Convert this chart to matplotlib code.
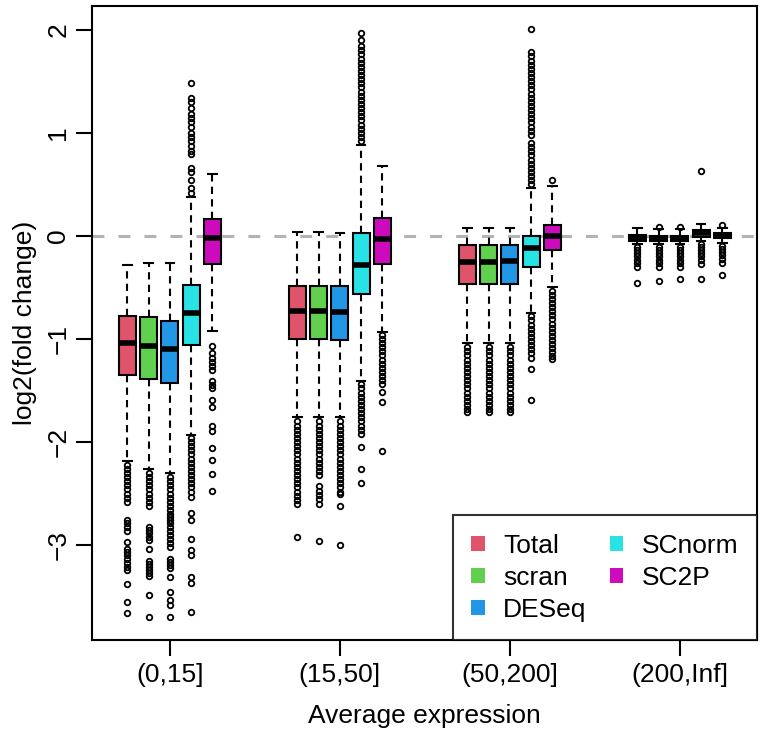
import matplotlib
matplotlib.use("Agg")
import matplotlib.pyplot as plt
from matplotlib.patches import Patch

# expression bins and methods
groups = ["(0,15]", "(15,50]", "(50,200]", "(200,Inf]"]
methods = ["Total", "scran", "DESeq", "SCnorm", "SC2P"]
colors = ["#DF536B", "#61D04F", "#2297E6", "#28E2E5", "#CD0BBC"]

# box statistics per method, one value per expression bin
med = {
    "Total":  [-1.04, -0.73, -0.25, -0.02],
    "scran":  [-1.07, -0.73, -0.25, -0.02],
    "DESeq":  [-1.10, -0.74, -0.24, -0.02],
    "SCnorm": [-0.75, -0.28, -0.12, 0.03],
    "SC2P":   [-0.02, -0.03, 0.00, 0.00],
}
q1 = {
    "Total":  [-1.35, -1.00, -0.47, -0.045],
    "scran":  [-1.39, -1.00, -0.47, -0.045],
    "DESeq":  [-1.43, -1.01, -0.47, -0.045],
    "SCnorm": [-1.06, -0.56, -0.30, -0.01],
    "SC2P":   [-0.27, -0.27, -0.14, -0.02],
}
q3 = {
    "Total":  [-0.78, -0.49, -0.09, 0.01],
    "scran":  [-0.79, -0.49, -0.09, 0.00],
    "DESeq":  [-0.83, -0.49, -0.09, 0.00],
    "SCnorm": [-0.48, 0.03, 0.00, 0.06],
    "SC2P":   [0.165, 0.17, 0.11, 0.03],
}
whislo = {
    "Total":  [-2.18, -1.76, -1.04, -0.08],
    "scran":  [-2.26, -1.76, -1.04, -0.08],
    "DESeq":  [-2.30, -1.76, -1.04, -0.08],
    "SCnorm": [-1.93, -1.41, -0.75, -0.05],
    "SC2P":   [-0.92, -0.93, -0.50, -0.07],
}
whishi = {
    "Total":  [-0.28, 0.04, 0.075, 0.075],
    "scran":  [-0.26, 0.04, 0.075, 0.07],
    "DESeq":  [-0.26, 0.03, 0.075, 0.07],
    "SCnorm": [0.38, 0.88, 0.46, 0.12],
    "SC2P":   [0.60, 0.68, 0.48, 0.08],
}

# outliers
fliers = {
    "Total": [
        [-2.22, -2.26, -2.30, -2.34, -2.38, -2.42, -2.46, -2.50, -2.54, -2.58,
         -2.76, -2.79, -2.82, -2.86, -2.97, -3.04, -3.07, -3.10, -3.13, -3.17,
         -3.21, -3.24, -3.38, -3.55, -3.66],
        [-1.80, -1.84, -1.88, -1.92, -1.96, -2.00, -2.04, -2.08, -2.12, -2.16,
         -2.20, -2.24, -2.28, -2.32, -2.36, -2.40, -2.44, -2.48, -2.52, -2.56,
         -2.60, -2.92],
        [-1.08, -1.12, -1.16, -1.20, -1.24, -1.28, -1.32, -1.36, -1.40, -1.44,
         -1.48, -1.52, -1.56, -1.60, -1.64, -1.68, -1.71],
        [-0.11, -0.14, -0.17, -0.20, -0.23, -0.26, -0.30, -0.46],
    ],
    "scran": [
        [-2.30, -2.34, -2.38, -2.42, -2.46, -2.50, -2.54, -2.58, -2.62,
         -2.82, -2.85, -2.88, -2.92, -2.95, -3.04, -3.15, -3.18, -3.21, -3.24,
         -3.27, -3.30, -3.48, -3.70],
        [-1.80, -1.84, -1.88, -1.92, -1.96, -2.00, -2.04, -2.08, -2.12, -2.16,
         -2.20, -2.24, -2.28, -2.32, -2.43, -2.47, -2.51, -2.55, -2.60, -2.96],
        [-1.08, -1.12, -1.16, -1.20, -1.24, -1.28, -1.32, -1.36, -1.40, -1.44,
         -1.48, -1.52, -1.56, -1.60, -1.64, -1.68, -1.71],
        [0.09, -0.11, -0.14, -0.17, -0.20, -0.23, -0.26, -0.30, -0.44],
    ],
    "DESeq": [
        [-2.34, -2.38, -2.42, -2.46, -2.50, -2.54, -2.58, -2.62, -2.66, -2.70,
         -2.73, -2.76, -2.79, -2.82, -2.86, -2.90, -2.94, -2.98, -3.02, -3.13,
         -3.16, -3.19, -3.22, -3.31, -3.45, -3.53, -3.58, -3.70],
        [-1.80, -1.84, -1.88, -1.92, -1.96, -2.00, -2.04, -2.08, -2.12, -2.16,
         -2.20, -2.24, -2.28, -2.32, -2.36, -2.40, -2.44, -2.48, -2.50, -2.62,
         -3.00],
        [-1.08, -1.12, -1.16, -1.20, -1.24, -1.28, -1.32, -1.36, -1.40, -1.44,
         -1.48, -1.52, -1.56, -1.60, -1.64, -1.68, -1.71],
        [0.09, -0.11, -0.14, -0.17, -0.20, -0.23, -0.26, -0.30, -0.42],
    ],
    "SCnorm": [
        [0.42, 0.46, 0.54, 0.62, 0.66, 0.79, 0.82, 0.87, 0.92, 0.96, 1.00,
         1.06, 1.10, 1.14, 1.18, 1.24, 1.30, 1.34, 1.48,
         -1.96, -2.00, -2.04, -2.08, -2.12, -2.16, -2.20, -2.24, -2.28, -2.32,
         -2.36, -2.40, -2.44, -2.48, -2.53, -2.69, -2.76, -2.94, -3.05, -3.10,
         -3.31, -3.37, -3.65],
        [0.92, 0.96, 1.00, 1.04, 1.08, 1.12, 1.16, 1.20, 1.24, 1.28, 1.32,
         1.36, 1.40, 1.44, 1.48, 1.52, 1.56, 1.60, 1.64, 1.68, 1.72, 1.76,
         1.80, 1.84, 1.90, 1.97,
         -1.44, -1.48, -1.52, -1.56, -1.60, -1.64, -1.68, -1.72, -1.76, -1.80,
         -1.84, -1.88, -1.92, -2.05, -2.26, -2.40],
        [0.50, 0.54, 0.58, 0.62, 0.66, 0.70, 0.74, 0.78, 0.82, 0.86, 0.90,
         0.98, 1.02, 1.06, 1.10, 1.14, 1.18, 1.22, 1.26, 1.30, 1.34, 1.38,
         1.42, 1.46, 1.50, 1.54, 1.58, 1.62, 1.66, 1.70, 1.74, 1.78, 2.01,
         -0.78, -0.82, -0.86, -0.90, -0.94, -0.98, -1.02, -1.06, -1.10, -1.14,
         -1.18, -1.29, -1.59],
        [0.63, -0.08, -0.11, -0.14, -0.17, -0.20, -0.23, -0.27, -0.42],
    ],
    "SC2P": [
        [-1.07, -1.14, -1.18, -1.22, -1.26, -1.30, -1.41, -1.45, -1.48, -1.59,
         -1.66, -1.84, -1.89, -2.06, -2.17, -2.31, -2.47],
        [-0.96, -1.00, -1.04, -1.08, -1.12, -1.16, -1.20, -1.24, -1.28, -1.32,
         -1.36, -1.40, -1.44, -1.51, -1.61, -2.09],
        [0.54, -0.53, -0.57, -0.61, -0.65, -0.69, -0.73, -0.77, -0.81, -0.85,
         -0.89, -0.93, -0.97, -1.01, -1.05, -1.09, -1.13, -1.17, -1.19],
        [0.11, -0.10, -0.13, -0.16, -0.19, -0.22, -0.26, -0.38],
    ],
}

plt.rcParams["font.family"] = ["Liberation Sans", "DejaVu Sans"]

fig = plt.figure(figsize=(7.65, 7.38), dpi=100)
ax = fig.add_axes([0.120, 0.1328, 0.8695, 0.8591])

offsets = [-0.25, -0.125, 0.0, 0.125, 0.25]
for m, name in enumerate(methods):
    stats = []
    for g in range(len(groups)):
        stats.append(dict(med=med[name][g], q1=q1[name][g], q3=q3[name][g],
                          whislo=whislo[name][g], whishi=whishi[name][g],
                          fliers=fliers[name][g]))
    pos = [g + 1 + offsets[m] for g in range(len(groups))]
    ax.bxp(stats, positions=pos, widths=0.1, patch_artist=True,
           showfliers=True, manage_ticks=False,
           boxprops=dict(facecolor=colors[m], edgecolor="black", linewidth=1.5),
           medianprops=dict(color="black", linewidth=4, solid_capstyle="butt"),
           whiskerprops=dict(color="black", linewidth=1.5,
                             linestyle=(0, (3.5, 2.5))),
           capprops=dict(color="black", linewidth=1.5),
           capwidths=0.05,
           flierprops=dict(marker="o", markerfacecolor="none",
                           markeredgecolor="black", markersize=4.0,
                           markeredgewidth=1.3))

ax.axhline(0, color="#B3B3B3", linewidth=2.2, linestyle=(0, (3.9, 4.6)),
           zorder=0)

ax.set_xlim(0.541, 4.453)
ax.set_ylim(-3.92, 2.23)
ax.set_xticks([1, 2, 3, 4])
ax.set_xticklabels(groups, fontsize=19)
ax.set_yticks([-3, -2, -1, 0, 1, 2])
ax.set_yticklabels(["\u22123", "\u22122", "\u22121", "0", "1", "2"],
                   rotation=90, va="center", fontsize=19)
ax.tick_params(axis="both", length=11.5, width=1.5)
ax.tick_params(axis="x", pad=5)
ax.tick_params(axis="y", pad=4)
for s in ax.spines.values():
    s.set_linewidth(1.5)

ax.set_xlabel("Average expression", fontsize=19, labelpad=12)
ax.set_ylabel("log2(fold change)", fontsize=19, labelpad=7)

handles = [Patch(facecolor=c, edgecolor="none", label=n)
           for c, n in zip(colors, methods)]
leg = ax.legend(handles=handles, ncol=2, loc="lower right", fontsize=19,
                frameon=True, fancybox=False, borderaxespad=0,
                handlelength=0.5, handleheight=0.5, handletextpad=0.7,
                columnspacing=0.9, borderpad=0.7, labelspacing=0.3)
leg.get_frame().set_edgecolor("black")
leg.get_frame().set_linewidth(1.5)

fig.savefig("out.png", dpi=100)
